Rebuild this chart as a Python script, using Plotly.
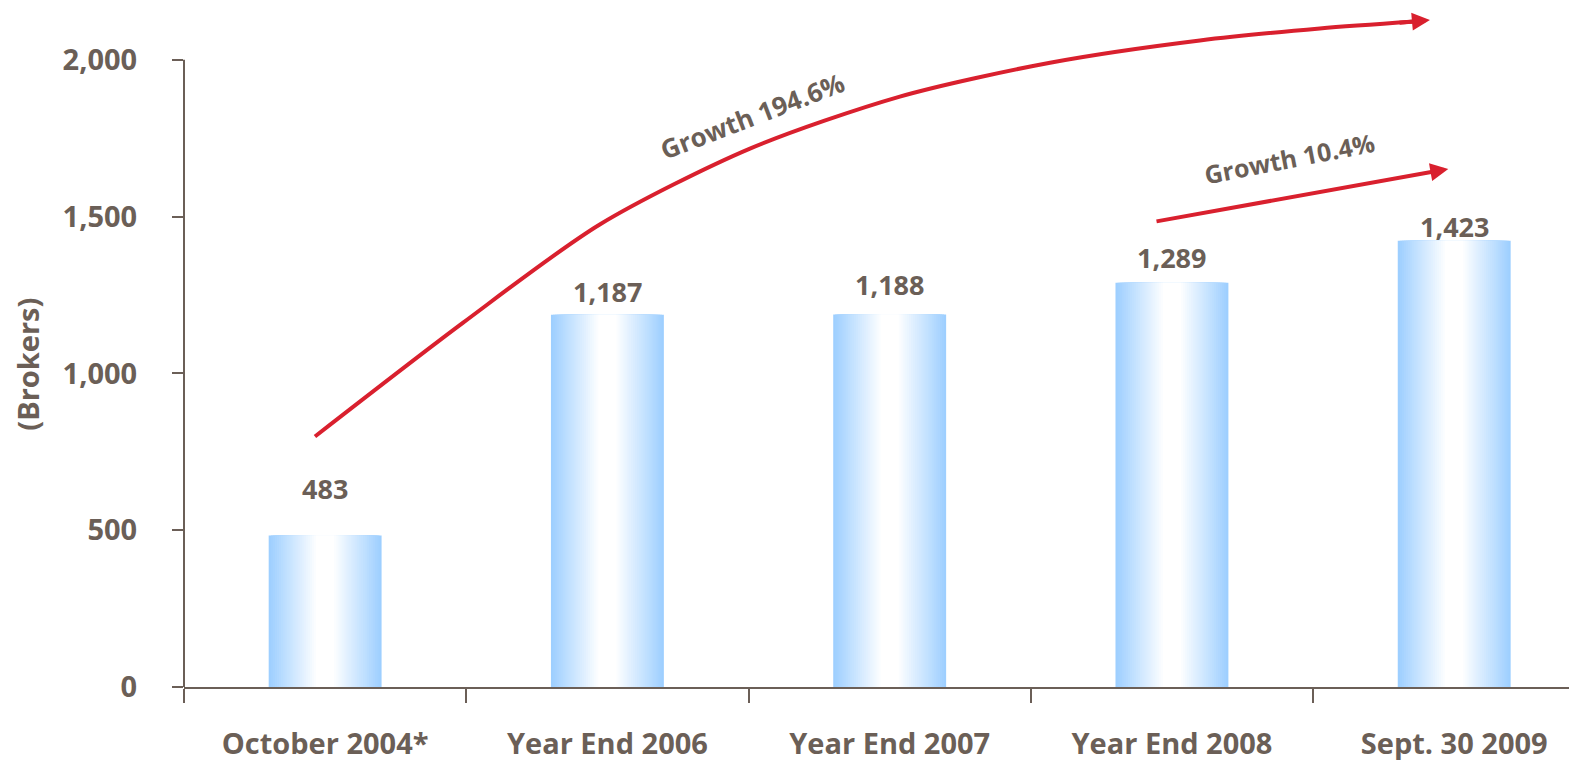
import plotly.graph_objects as go

# ---- data ----
categories = ["October 2004*", "Year End 2006", "Year End 2007", "Year End 2008", "Sept. 30 2009"]
brokers = [483, 1187, 1188, 1289, 1423]
value_labels = ["483", "1,187", "1,188", "1,289", "1,423"]
y_ticks = [0, 500, 1000, 1500, 2000]
y_tick_text = ["0", "500", "1,000", "1,500", "2,000"]

# label layout (pixel offsets above bar tops)
label_shift = [47, 23, 30, 25, 14]

# decorative growth arrows (data coordinates: category index, brokers)
curve_x = [-0.036, 0.489, 0.973, 1.505, 2.036, 2.568, 3.099, 3.524, 3.861]
curve_y = [799, 1162, 1475, 1717, 1883, 1991, 2062, 2100, 2122]
curve_tip = (3.914, 2127)
arrow2_start = (2.940, 1484)
arrow2_tip = (3.979, 1652)

TEXT = "#6b5f57"
RED = "#d9202e"
BLUE = (158, 207, 255)
FONT = "Open Sans"

fig = go.Figure()

# gradient bars: stacked overlay of bars narrowing toward a white core
N = 24
W = 0.40
core = 0.16
for k in range(N):
    t = k / (N - 1)
    w = W * (1 - t * (1 - core))
    c = tuple(int(round(b * (1 - t) + 255 * t)) for b in BLUE)
    fig.add_trace(go.Bar(
        x=categories, y=brokers, width=w,
        marker=dict(color="rgb(%d,%d,%d)" % c, line=dict(width=0)),
        showlegend=False, hoverinfo="skip" if k else "x+y",
    ))

# growth curve
fig.add_trace(go.Scatter(
    x=curve_x, y=curve_y, mode="lines",
    line=dict(color=RED, width=4, shape="spline", smoothing=0.8),
    showlegend=False, hoverinfo="skip", xaxis="x2",
))

annotations = []
for i, (c, v, lab) in enumerate(zip(categories, brokers, value_labels)):
    annotations.append(dict(
        x=c, y=v, text=lab, showarrow=False, yshift=label_shift[i],
        yanchor="middle", font=dict(family=FONT, size=27, color=TEXT, weight="bold"),
    ))

# arrowhead of the curve
annotations.append(dict(
    x=curve_tip[0], y=curve_tip[1], ax=curve_x[-1] - 0.06, ay=curve_y[-1] - 4,
    xref="x2", yref="y", axref="x2", ayref="y", text="", showarrow=True,
    arrowhead=2, arrowsize=0.9, arrowwidth=4, arrowcolor=RED, standoff=0,
))
# second straight arrow
annotations.append(dict(
    x=arrow2_tip[0], y=arrow2_tip[1], ax=arrow2_start[0], ay=arrow2_start[1],
    xref="x2", yref="y", axref="x2", ayref="y", text="", showarrow=True,
    arrowhead=2, arrowsize=0.9, arrowwidth=4, arrowcolor=RED, standoff=0,
))
annotations.append(dict(
    x=1.511, y=1822, xref="x2", yref="y", text="Growth 194.6%", showarrow=False,
    textangle=-21, font=dict(family=FONT, size=26, color=TEXT, weight="bold"),
))
annotations.append(dict(
    x=3.418, y=1688, xref="x2", yref="y", text="Growth 10.4%", showarrow=False,
    textangle=-11, font=dict(family=FONT, size=25, color=TEXT, weight="bold"),
))
# y-axis title
annotations.append(dict(
    x=0, y=1028, xref="paper", yref="y", xshift=-156, text="(Brokers)",
    showarrow=False, textangle=-90, xanchor="center", yanchor="middle",
    font=dict(family=FONT, size=29, color=TEXT, weight="bold"),
))

XR = [-0.5, 4.435]
YR = [0, 2159]

fig.update_layout(
    width=1577, height=760,
    margin=dict(l=176, r=8, t=2, b=81),
    paper_bgcolor="white", plot_bgcolor="white",
    barmode="overlay",
    showlegend=False,
    font=dict(family=FONT, color=TEXT),
    xaxis=dict(
        type="category", range=XR, showgrid=False, zeroline=False, automargin=False,
        showline=True, linecolor=TEXT, linewidth=2,
        ticks="outside", tickson="boundaries", ticklen=14, tickwidth=2, tickcolor=TEXT,
        tickfont=dict(family=FONT, size=29, color=TEXT, weight="bold"),
        ticklabelstandoff=30,
    ),
    xaxis2=dict(
        overlaying="x", range=XR, visible=False, showgrid=False, zeroline=False,
    ),
    yaxis=dict(
        range=YR, showgrid=False, zeroline=False, showline=False, automargin=False,
        tickvals=y_ticks, ticktext=y_tick_text,
        ticks="outside", ticklen=11, tickwidth=2, tickcolor=TEXT,
        tickfont=dict(family=FONT, size=29, color=TEXT, weight="bold"),
        ticklabelstandoff=29,
    ),
    annotations=annotations,
    shapes=[dict(type="line", xref="paper", yref="y", x0=0, x1=0, y0=0, y1=2000,
                 line=dict(color=TEXT, width=2), layer="above")],
)

fig.write_html("out.html")
